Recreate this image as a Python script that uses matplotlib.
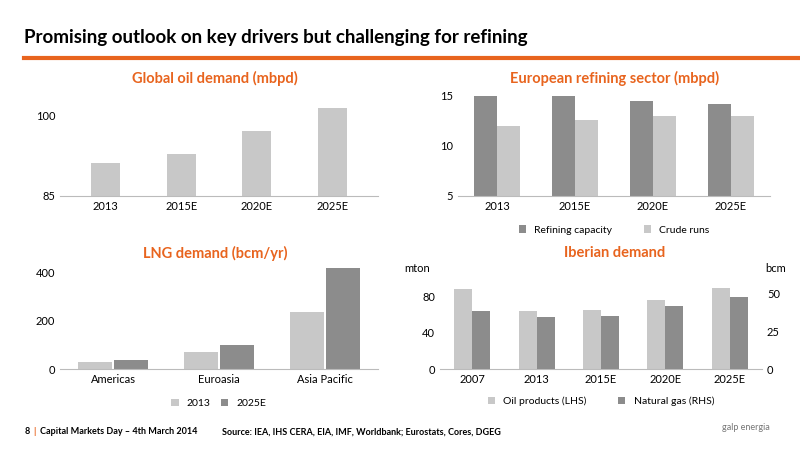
import numpy as np
import matplotlib.pyplot as plt
from matplotlib.lines import Line2D

plt.rcParams['font.family'] = ['Lato', 'DejaVu Sans']

# Global oil demand
oil_years = ['2013', '2015E', '2020E', '2025E']
oil_demand = [91.2, 92.9, 97.2, 101.5]

# European refining
eu_years = ['2013', '2015E', '2020E', '2025E']
ref_capacity = [15.0, 15.0, 14.5, 14.2]
crude_runs = [12.0, 12.6, 13.0, 13.0]

# LNG demand
lng_regions = ['Americas', 'Euroasia', 'Asia Pacific']
lng_2013 = [29, 71, 238]
lng_2025 = [37, 100, 421]

# Iberian demand
ib_years = ['2007', '2013', '2015E', '2020E', '2025E']
ib_oil = [88, 64, 65, 76, 89]
ib_gas = [38.7, 34.7, 35.3, 42, 48]

LIGHT = '#c8c8c8'
DARK = '#8c8c8c'
ORANGE = '#e8641e'
W, H = 800, 450

fig = plt.figure(figsize=(8, 4.5), dpi=100)

def ax_px(x0, y0, x1, y1):
    return fig.add_axes([x0 / W, 1 - y1 / H, (x1 - x0) / W, (y1 - y0) / H])

def style(ax):
    for s in ['top', 'right', 'left']:
        ax.spines[s].set_visible(False)
    ax.spines['bottom'].set_color('#bbbbbb')
    ax.tick_params(length=0, labelsize=8)

def title(txt, y):
    fig.text(0, 1 - y / H, txt, color=ORANGE, fontsize=10.5, fontweight='bold',
             ha='center', va='center')

fig.text(0.03, 1 - 38 / H, 'Promising outlook on key drivers but challenging for refining',
         fontsize=13.5, fontweight='bold', va='center')
fig.add_artist(Line2D([0.03, 1.0], [1 - 58 / H, 1 - 58 / H], color=ORANGE, lw=3))

# top-left
ax = ax_px(60, 96, 378, 196)
style(ax)
x = np.arange(len(oil_years))
ax.bar(x, oil_demand, 0.38, color=LIGHT)
ax.set_ylim(85, 103.75)
ax.set_xlim(-0.6, 3.6)
ax.set_yticks([85, 100])
ax.set_xticks(x, oil_years)
fig.text(215 / W, 1 - 78 / H, 'Global oil demand (mbpd)', color=ORANGE, fontsize=10.5,
         fontweight='bold', ha='center', va='center')

# top-right
ax = ax_px(458, 96, 770, 196)
style(ax)
x = np.arange(len(eu_years))
ax.bar(x - 0.15, ref_capacity, 0.3, color=DARK, label='Refining capacity')
ax.bar(x + 0.15, crude_runs, 0.3, color=LIGHT, label='Crude runs')
ax.set_ylim(5, 15)
ax.set_xlim(-0.5, 3.5)
ax.set_yticks([5, 10, 15])
ax.set_xticks(x, eu_years)
fig.text(615 / W, 1 - 78 / H, 'European refining sector (mbpd)', color=ORANGE, fontsize=10.5,
         fontweight='bold', ha='center', va='center')
ax.legend(loc='upper center', bbox_to_anchor=(0.5, -0.2), ncol=2, frameon=False,
          fontsize=7.5, handlelength=0.7, handleheight=0.7, columnspacing=3)

# bottom-left
ax = ax_px(60, 268, 378, 369)
style(ax)
x = np.arange(len(lng_regions))
ax.bar(x - 0.17, lng_2013, 0.32, color=LIGHT, label='2013')
ax.bar(x + 0.17, lng_2025, 0.32, color=DARK, label='2025E')
ax.set_ylim(0, 420)
ax.set_xlim(-0.5, 2.5)
ax.set_yticks([0, 200, 400])
ax.set_xticks(x, lng_regions)
fig.text(215 / W, 1 - 253 / H, 'LNG demand (bcm/yr)', color=ORANGE, fontsize=10.5,
         fontweight='bold', ha='center', va='center')
ax.legend(loc='upper center', bbox_to_anchor=(0.5, -0.2), ncol=2, frameon=False,
          fontsize=7.5, handlelength=0.7, handleheight=0.7, columnspacing=1)

# bottom-right
ax = ax_px(440, 278, 762, 369)
style(ax)
x = np.arange(len(ib_years))
ax.bar(x - 0.14, ib_oil, 0.28, color=LIGHT, label='Oil products (LHS)')
ax.set_ylim(0, 100)
ax.set_xlim(-0.5, 4.5)
ax.set_yticks([0, 40, 80])
ax.set_xticks(x, ib_years)
ax2 = ax.twinx()
style(ax2)
ax2.spines['bottom'].set_visible(False)
ax2.bar(x + 0.14, ib_gas, 0.28, color=DARK, label='Natural gas (RHS)')
ax2.set_ylim(0, 60.6)
ax2.set_yticks([0, 25, 50])
fig.text(615 / W, 1 - 253 / H, 'Iberian demand', color=ORANGE, fontsize=10.5,
         fontweight='bold', ha='center', va='center')
fig.text(404 / W, 1 - 268 / H, 'mton', fontsize=8, va='center')
fig.text(765 / W, 1 - 268 / H, 'bcm', fontsize=8, va='center')
h1, l1 = ax.get_legend_handles_labels()
h2, l2 = ax2.get_legend_handles_labels()
ax.legend(h1 + h2, l1 + l2, loc='upper center', bbox_to_anchor=(0.5, -0.2), ncol=2,
          frameon=False, fontsize=7.5, handlelength=0.7, handleheight=0.7, columnspacing=3)

# footer
fig.text(25 / W, 1 - 432 / H, '8', fontsize=6.5, fontweight='bold', va='center')
fig.text(33 / W, 1 - 432 / H, '|', fontsize=7, fontweight='bold', va='center', color=ORANGE)
fig.text(40 / W, 1 - 432 / H, 'Capital Markets Day \u2013 4th March 2014', fontsize=6.5,
         fontweight='bold', va='center')
fig.text(222 / W, 1 - 432 / H, 'Source: IEA, IHS CERA, EIA, IMF, Worldbank; Eurostats, Cores, DGEG',
         fontsize=6.5, fontweight='bold', va='center')
fig.text(722 / W, 1 - 428 / H, 'galp energia', fontsize=6.5, color='#777777', va='center')

fig.savefig('out.png', dpi=100)
